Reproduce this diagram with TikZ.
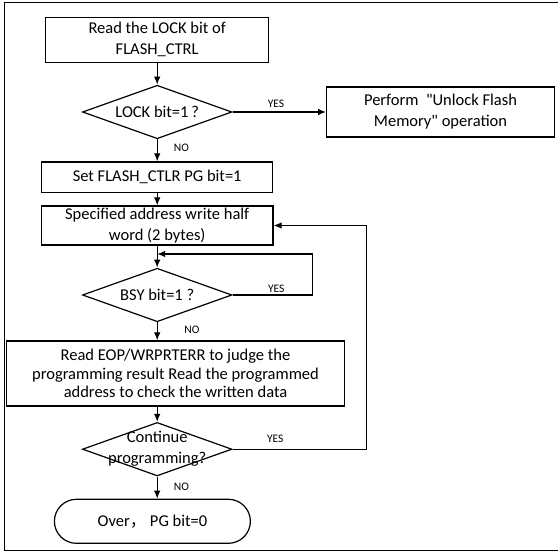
\documentclass[tikz,border=0pt]{standalone}
\usepackage{fontspec}
\setmainfont{Carlito}
\newfontfamily\cjk{Noto Sans CJK SC}
\usetikzlibrary{shapes.geometric,arrows.meta}
\begin{document}
\begin{tikzpicture}[x=1pt,y=-1pt,
  every node/.style={inner sep=0pt},
  txt/.style={font=\fontsize{16.5}{21}\selectfont},
  box/.style={draw,line width=1.2pt,rectangle,align=center,txt},
  dia/.style={draw,line width=1.2pt,diamond,minimum width=149.5pt,minimum height=53.5pt},
  lab/.style={font=\fontsize{11.5}{13}\selectfont},
  arr/.style={line width=1.2pt,-{Latex[length=8pt,width=6.5pt]}},
  lin/.style={line width=1.2pt}]
\useasboundingbox (0,0) rectangle (558,553);
\draw[line width=1pt] (562,2.7) -- (4.7,2.7) -- (4.7,551) -- (562,551);

\node[box,minimum width=223.3pt,minimum height=45pt] (b1) at (157.2,39.8) {Read the LOCK bit of\\FLASH\_CTRL};
\node[dia,label={[txt]center:LOCK bit=1\,?}] (d1) at (157.2,112) {};
\node[box,minimum width=227.6pt,minimum height=50pt] (unlock) at (440.5,112) {Perform \ \textquotedbl Unlock Flash\\Memory\textquotedbl{} operation};
\node[box,minimum width=231.3pt,minimum height=30.5pt] (set) at (157.2,177.2) {Set FLASH\_CTLR PG bit=1};
\node[box,minimum width=231.6pt,minimum height=39pt] (spec) at (157.2,225.5) {Specified address write half\\word (2 bytes)};
\node[dia,label={[txt]center:BSY bit=1 ?}] (bsy) at (157.2,295) {};
\node[box,minimum width=337.6pt,minimum height=65pt,font=\fontsize{16.5}{18.5}\selectfont] (read) at (175.5,373.5) {Read EOP/WRPRTERR to judge the\\programming result Read the programmed\\address to check the written data};
\node[dia,label={[txt,align=center]center:Continue\\programming?}] (cont) at (157.2,449.2) {};
\node[draw,line width=1.2pt,rectangle,rounded corners=22pt,minimum width=196pt,minimum height=44pt,txt] (over) at (152.4,521.3) {Over{\cjk ，}\ PG bit=0};

\node[lab] (y1) at (276,104) {YES};
\node[lab] (n1) at (181.5,148) {NO};
\node[lab] (y2) at (276.3,289) {YES};
\node[lab] (n2) at (192,330) {NO};
\node[lab] (y3) at (275.3,439.3) {YES};
\node[lab] (n3) at (181.5,486.7) {NO};

\coordinate (j1) at (157.2,254);
\draw[arr] (b1.south) -- (d1.north);
\draw[arr] (d1.east) -- (unlock.west);
\draw[arr] (d1.south) -- (set.north);
\draw[arr] (set.south) -- (spec.north);
\draw[arr] (spec.south) -- (bsy.north);
\draw[arr] (bsy.east) -- ++(80.3,0) |- (j1);
\draw[arr] (bsy.south) -- (bsy.south |- read.north);
\draw[arr] (read.south -| cont) -- (cont.north);
\draw[arr] (cont.east) -- ++(134,0) |- (spec.east);
\draw[arr] (cont.south) -- (cont.south |- over.north);
\end{tikzpicture}
\end{document}
